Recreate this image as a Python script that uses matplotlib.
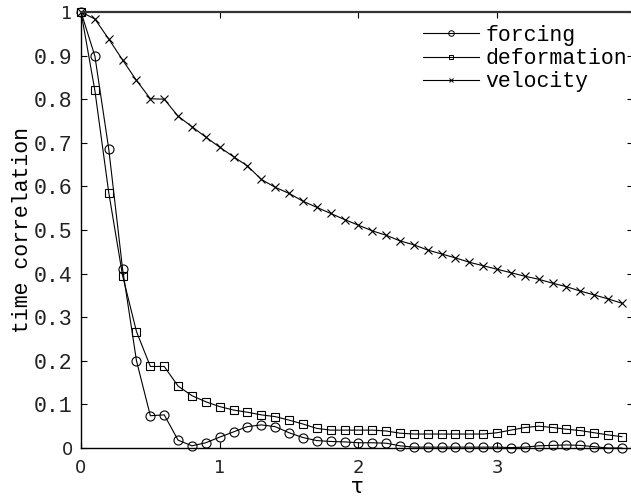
import matplotlib
matplotlib.use("Agg")
import matplotlib.pyplot as plt
from matplotlib.lines import Line2D
import numpy as np

tau = [round(0.1 * i, 1) for i in range(40)]

forcing = [1.000, 0.899, 0.686, 0.410, 0.200, 0.074, 0.076, 0.018, 0.005, 0.012,
           0.025, 0.037, 0.049, 0.053, 0.049, 0.035, 0.024, 0.017, 0.015, 0.014,
           0.012, 0.012, 0.011, 0.005, 0.002, 0.002, 0.002, 0.002, 0.002, 0.002,
           0.002, 0.001, 0.002, 0.005, 0.006, 0.007, 0.006, 0.003, 0.000, 0.000]

deformation = [1.000, 0.820, 0.586, 0.395, 0.267, 0.187, 0.187, 0.142, 0.120, 0.106,
               0.095, 0.087, 0.082, 0.076, 0.072, 0.064, 0.055, 0.045, 0.041, 0.041,
               0.041, 0.041, 0.039, 0.034, 0.032, 0.032, 0.032, 0.032, 0.032, 0.032,
               0.035, 0.041, 0.047, 0.050, 0.047, 0.043, 0.040, 0.035, 0.030, 0.026]

velocity = [1.000, 0.984, 0.938, 0.890, 0.843, 0.801, 0.800, 0.761, 0.737, 0.713,
            0.690, 0.668, 0.647, 0.616, 0.598, 0.584, 0.566, 0.552, 0.538, 0.524,
            0.511, 0.498, 0.488, 0.475, 0.466, 0.454, 0.445, 0.436, 0.426, 0.418,
            0.410, 0.402, 0.394, 0.387, 0.378, 0.370, 0.360, 0.351, 0.342, 0.332]

series_labels = ["forcing", "deformation", "velocity"]
xticks = [0, 1, 2, 3]
yticks = [0, 0.1, 0.2, 0.3, 0.4, 0.5, 0.6, 0.7, 0.8, 0.9, 1]
ytick_labels = ["0", "0.1", "0.2", "0.3", "0.4", "0.5", "0.6", "0.7", "0.8", "0.9", "1"]

W, H = 631, 498
fig = plt.figure(figsize=(W / 100, H / 100), dpi=100)
x0, x1 = 81, 633
y0, y1 = 448, 12
ax = fig.add_axes([x0 / W, (H - y0) / H, (x1 - x0) / W, (y0 - y1) / H])

lw = 0.8
ax.plot(tau, forcing, color="black", lw=lw, marker="o", ms=6.5, mfc="none",
        mec="black", mew=0.8, clip_on=False)
ax.plot(tau, deformation, color="black", lw=lw, marker="s", ms=6.0, mfc="none",
        mec="black", mew=0.8, clip_on=False)
ax.plot(tau, velocity, color="black", lw=lw, marker="x", ms=5.5,
        mec="black", mew=0.8, clip_on=False)

ax.set_xlim(0, (x1 - x0) / 138.7)
ax.set_ylim(0, 1)
ax.set_xticks(xticks)
ax.set_xticklabels([str(v) for v in xticks], fontsize=13, family="DejaVu Sans")
ax.set_yticks(yticks)
ax.set_yticklabels(ytick_labels)
for lab, txt in zip(ax.get_yticklabels(), ytick_labels):
    if txt in ("0", "1"):
        lab.set_fontfamily("DejaVu Sans")
        lab.set_fontsize(13)
    else:
        lab.set_fontfamily("Liberation Mono")
        lab.set_fontsize(15.5)
ax.tick_params(direction="in", length=4, width=0.8, top=True, right=True,
               colors="black", labelcolor="#222222")
ax.tick_params(axis="x", pad=8)
ax.tick_params(axis="y", pad=6)
for s in ax.spines.values():
    s.set_linewidth(1.0)
ax.spines["top"].set_linewidth(1.6)
ax.spines["top"].set_color("#333333")

ax.set_ylabel("time correlation", family="Liberation Mono", fontsize=15.5, labelpad=1)
ax.set_xlabel("τ", family="DejaVu Sans", fontsize=15, labelpad=0)

handles = [
    Line2D([], [], color="black", lw=lw, marker="o", ms=4, mfc="none", mew=0.7),
    Line2D([], [], color="black", lw=lw, marker="s", ms=3.5, mfc="none", mew=0.7),
    Line2D([], [], color="black", lw=lw, marker="x", ms=3.5, mew=0.7),
]
leg = ax.legend(handles, series_labels, loc="upper left",
                bbox_to_anchor=((423 - x0) / (x1 - x0), 1 - (25 - y1) / (y0 - y1)),
                frameon=False, prop={"family": "Liberation Mono", "size": 15.5},
                handlelength=2.6, handletextpad=0.3, labelspacing=0.1,
                borderaxespad=0, borderpad=0)

fig.savefig("out.png", dpi=100)
